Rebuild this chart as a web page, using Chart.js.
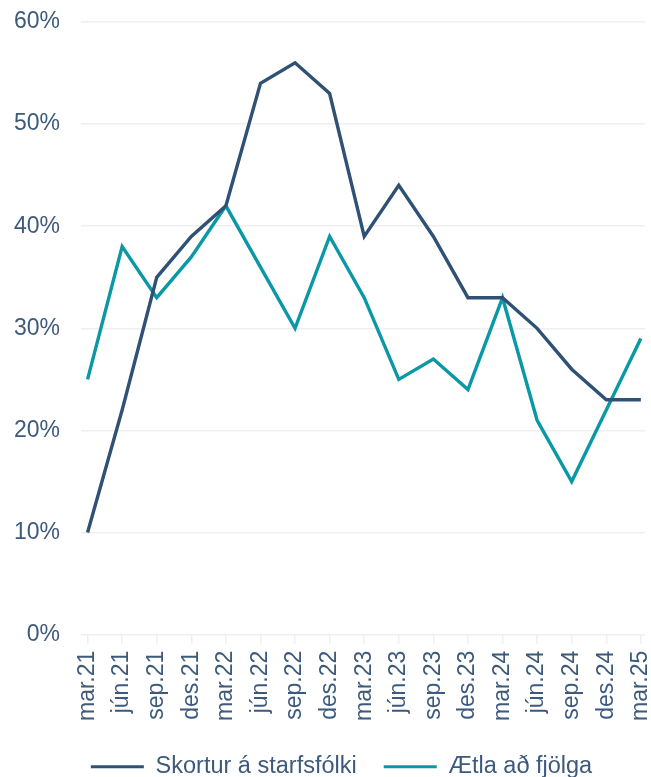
<!DOCTYPE html>
<html>
<head>
<meta charset="utf-8">
<script src="https://cdn.jsdelivr.net/npm/chart.js@4/dist/chart.umd.min.js"></script>
<style>
  html, body { margin: 0; padding: 0; background: #ffffff; }
  #wrap { width: 651px; height: 777px; }
</style>
</head>
<body>
<div id="wrap"><canvas id="c" width="651" height="777"></canvas></div>
<script>
const categories = ["mar.21","jún.21","sep.21","des.21","mar.22","jún.22","sep.22","des.22","mar.23","jún.23","sep.23","des.23","mar.24","jún.24","sep.24","des.24","mar.25"];
const skortur = [10,22,35,39,42,54,56,53,39,44,39,33,33,30,26,23,23];
const fjolga  = [25,38,33,37,42,36,30,39,33,25,27,24,33,21,15,22,29];
const yTicks = [0,10,20,30,40,50,60];

const textColor = '#3d5a7c';
const gridColor = '#efefef';
const tickFont = { family: 'Liberation Sans, Arial, sans-serif', size: 23 };
const legendFont = { family: 'Liberation Sans, Arial, sans-serif', size: 23.5 };

const toPts = arr => arr.map((v, i) => ({ x: i, y: v }));

new Chart(document.getElementById('c'), {
  type: 'line',
  data: {
    datasets: [
      { label: 'Skortur á starfsfólki', data: toPts(skortur), borderColor: '#2f5175', backgroundColor: '#2f5175', borderWidth: 3.4, pointRadius: 0, tension: 0 },
      { label: 'Ætla að fjölga', data: toPts(fjolga), borderColor: '#0a98a6', backgroundColor: '#0a98a6', borderWidth: 3.4, pointRadius: 0, tension: 0 }
    ]
  },
  options: {
    responsive: false,
    animation: false,
    layout: { padding: { left: 0, right: -32, top: 22, bottom: -11.5 } },
    plugins: {
      legend: {
        position: 'bottom',
        labels: {
          font: legendFont,
          color: textColor,
          boxWidth: 53,
          boxHeight: 3,
          padding: 27,
          generateLabels: chart => chart.data.datasets.map((d, i) => ({
            text: d.label, fillStyle: d.borderColor, strokeStyle: d.borderColor, lineWidth: 0, datasetIndex: i, fontColor: textColor
          }))
        }
      },
      tooltip: { enabled: false }
    },
    scales: {
      x: {
        type: 'linear',
        min: -0.19,
        max: 16.12,
        afterBuildTicks: s => { s.ticks = categories.map((_, i) => ({ value: i })); },
        afterFit: s => { s.paddingRight = 6; },
        ticks: {
          font: tickFont,
          color: textColor,
          maxRotation: 90,
          minRotation: 90,
          autoSkip: false,
          padding: 7,
          callback: v => categories[v]
        },
        grid: { drawOnChartArea: false, color: gridColor, tickLength: 9, lineWidth: 1.5 },
        border: { display: false }
      },
      y: {
        min: 0,
        max: 60,
        afterBuildTicks: s => { s.ticks = yTicks.map(v => ({ value: v })); },
        afterFit: s => { s.width = 81; s.paddingTop = 0; s.paddingBottom = 0; },
        ticks: {
          font: tickFont,
          color: textColor,
          padding: 21,
          callback: v => v + '%'
        },
        grid: { color: gridColor, drawTicks: false, lineWidth: 1.5 },
        border: { display: false }
      }
    }
  }
});
</script>
</body>
</html>
